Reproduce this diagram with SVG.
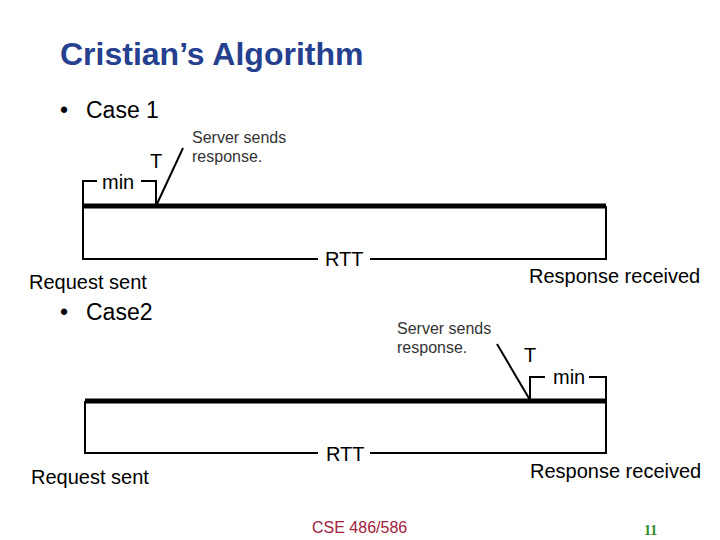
<svg xmlns="http://www.w3.org/2000/svg" width="720" height="540" viewBox="0 0 720 540">
<style>
text{font-family:"Liberation Sans",Arial,sans-serif;fill:#000}
.title{font-size:32px;font-weight:bold;fill:#24408E}
.bul{font-size:23px}
.lbl{font-size:20px}
.note{font-size:16px;fill:#333}
.thick{stroke:#000;stroke-width:5;fill:none}
.thin{stroke:#000;stroke-width:2;fill:none}
.foot{font-size:16px;fill:#A0203C}
.num{font-family:"Liberation Serif",serif;font-size:14px;font-weight:bold;fill:#2E8B22}
</style>
<rect width="720" height="540" fill="#fff"/>
<g id="title"><text class="title" x="60" y="65">Cristian’s Algorithm</text></g>
<g id="case1-heading"><text class="bul" x="60" y="118">•</text><text class="bul" x="86" y="118">Case 1</text></g>
<g id="case1">
  <g id="c1-timeline"><line class="thick" x1="83" y1="206" x2="606" y2="206"/></g>
  <g id="c1-min">
    <path class="thin" d="M83,206 V181 H97 M141,181 H156 V206"/>
    <text class="lbl" x="102" y="189" font-size="19">min</text>
    <text class="lbl" x="150" y="168">T</text>
  </g>
  <g id="c1-server">
    <line class="thin" x1="156" y1="206" x2="183" y2="148"/>
    <text class="note" x="192" y="143">Server sends</text>
    <text class="note" x="192" y="162">response.</text>
  </g>
  <g id="c1-rtt">
    <path class="thin" d="M83,206 V259 H318 M370,259 H606 V206"/>
    <text class="lbl" x="325" y="266">RTT</text>
  </g>
  <text class="lbl" x="29" y="289">Request sent</text>
  <text class="lbl" x="529" y="283">Response received</text>
</g>
<g id="case2-heading"><text class="bul" x="60" y="320">•</text><text class="bul" x="86" y="320">Case2</text></g>
<g id="case2">
  <g id="c2-timeline"><line class="thick" x1="85" y1="401" x2="606" y2="401"/></g>
  <g id="c2-min">
    <path class="thin" d="M530,401 V377 H545 M589,377 H606 V401"/>
    <text class="lbl" x="553" y="384">min</text>
    <text class="lbl" x="524" y="362">T</text>
  </g>
  <g id="c2-server">
    <line class="thin" x1="497" y1="344" x2="530" y2="400"/>
    <text class="note" x="397" y="334">Server sends</text>
    <text class="note" x="397" y="353">response.</text>
  </g>
  <g id="c2-rtt">
    <path class="thin" d="M85,401 V453 H318 M370,453 H606 V401"/>
    <text class="lbl" x="326" y="461">RTT</text>
  </g>
  <text class="lbl" x="31" y="484">Request sent</text>
  <text class="lbl" x="530" y="478">Response received</text>
</g>
<g id="footer">
  <text class="foot" x="312" y="533">CSE 486/586</text>
  <text class="num" x="644" y="535">11</text>
</g>
</svg>
